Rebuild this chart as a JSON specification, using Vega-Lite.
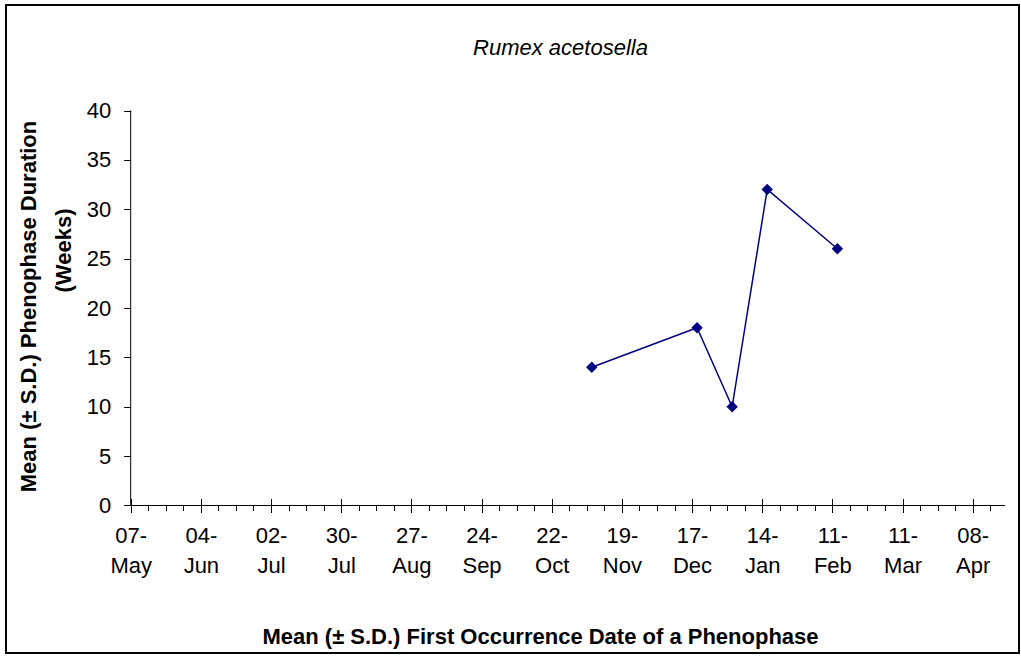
{
  "$schema": "https://vega.github.io/schema/vega-lite/v6.json",
  "autosize": {"type": "none"},
  "width": 1013,
  "height": 648,
  "padding": {"left": 6, "top": 5, "right": 2, "bottom": 3},
  "background": "white",
  "config": {
    "view": {"stroke": "#000", "strokeWidth": 2},
    "font": "Liberation Sans",
    "axis": {
      "domain": false,
      "grid": false,
      "tickColor": "#000",
      "tickWidth": 1,
      "labelFont": "Liberation Sans",
      "labelFontSize": 22,
      "labelColor": "#000",
      "titleFont": "Liberation Sans",
      "titleFontSize": 22,
      "titleFontWeight": "bold",
      "titleColor": "#000"
    }
  },
  "title": {
    "text": "Rumex acetosella",
    "font": "Liberation Sans",
    "fontSize": 22,
    "fontStyle": "italic",
    "fontWeight": "normal",
    "color": "#000",
    "anchor": "middle",
    "frame": "group",
    "offset": 0,
    "baseline": "alphabetic",
    "dx": 48,
    "dy": 72
  },
  "data": {
    "values": [
      {"date": "2001-11-07", "weeks": 14},
      {"date": "2001-12-19", "weeks": 18},
      {"date": "2002-01-02", "weeks": 10},
      {"date": "2002-01-16", "weeks": 32},
      {"date": "2002-02-13", "weeks": 26}
    ]
  },
  "layer": [
    {
      "data": {"values": [{}]},
      "mark": {"type": "rule", "color": "#000", "strokeWidth": 1},
      "encoding": {
        "x": {"datum": 989193600000, "type": "temporal", "axis": null},
        "x2": {"datum": 1019338560000},
        "y": {"datum": 0, "type": "quantitative", "axis": null}
      }
    },
    {
      "data": {"values": [{}]},
      "mark": {"type": "rule", "color": "#000", "strokeWidth": 1},
      "encoding": {
        "x": {"datum": 989193600000, "type": "temporal", "axis": null},
        "y": {"datum": 0, "type": "quantitative", "axis": null},
        "y2": {"datum": 40}
      }
    },
    {
      "mark": {"type": "line", "color": "#000080", "strokeWidth": 1.5},
      "encoding": {
        "x": {
          "field": "date",
          "type": "temporal",
          "scale": {"type": "utc", "domain": [984894336000, 1019819808000]},
          "axis": {
            "orient": "bottom",
            "offset": -147.5,
            "labels": false,
            "title": null,
            "tickSize": 5,
            "values": [989193600000, 989798400000, 990403200000, 991008000000, 991612800000, 992217600000, 992822400000, 993427200000, 994032000000, 994636800000, 995241600000, 995846400000, 996451200000, 997056000000, 997660800000, 998265600000, 998870400000, 999475200000, 1000080000000, 1000684800000, 1001289600000, 1001894400000, 1002499200000, 1003104000000, 1003708800000, 1004313600000, 1004918400000, 1005523200000, 1006128000000, 1006732800000, 1007337600000, 1007942400000, 1008547200000, 1009152000000, 1009756800000, 1010361600000, 1010966400000, 1011571200000, 1012176000000, 1012780800000, 1013385600000, 1013990400000, 1014595200000, 1015200000000, 1015804800000, 1016409600000, 1017014400000, 1017619200000, 1018224000000, 1018828800000]
          }
        },
        "y": {
          "field": "weeks",
          "type": "quantitative",
          "scale": {"domain": [-14.937, 50.684], "nice": false, "zero": false},
          "axis": {
            "orient": "left",
            "offset": 0,
            "labels": false,
            "ticks": false,
            "title": "(Weeks)",
            "titleX": 57,
            "titleY": 245,
            "titleAngle": -90,
            "titleAlign": "center",
            "titleBaseline": "middle"
          }
        }
      }
    },
    {
      "mark": {"type": "point", "shape": "diamond", "filled": true, "size": 130, "color": "#000080", "opacity": 1},
      "encoding": {
        "x": {
          "field": "date",
          "type": "temporal",
          "axis": {
            "orient": "bottom",
            "offset": -154.5,
            "tickSize": 14,
            "labelPadding": 13,
            "labelAlign": "center",
            "labelBaseline": "top",
            "labelLineHeight": 30,
            "labelExpr": "[utcFormat(datum.value, '%d-'), utcFormat(datum.value, '%b')]",
            "values": [989193600000, 991612800000, 994032000000, 996451200000, 998870400000, 1001289600000, 1003708800000, 1006128000000, 1008547200000, 1010966400000, 1013385600000, 1015804800000, 1018224000000],
            "title": "Mean (± S.D.) First Occurrence Date of a Phenophase",
            "titleX": 534,
            "titleY": 137.5,
            "titleAngle": 0,
            "titleAlign": "center",
            "titleBaseline": "middle"
          }
        },
        "y": {
          "field": "weeks",
          "type": "quantitative",
          "axis": {
            "orient": "left",
            "offset": -124.7,
            "values": [0, 5, 10, 15, 20, 25, 30, 35, 40],
            "tickSize": 7,
            "labelPadding": 13,
            "labelAlign": "right",
            "labelBaseline": "middle",
            "title": "Mean (± S.D.) Phenophase Duration",
            "titleX": -102.2,
            "titleY": 301,
            "titleAngle": -90,
            "titleAlign": "center",
            "titleBaseline": "middle"
          }
        }
      }
    }
  ],
  "resolve": {"axis": {"x": "independent", "y": "independent"}}
}
